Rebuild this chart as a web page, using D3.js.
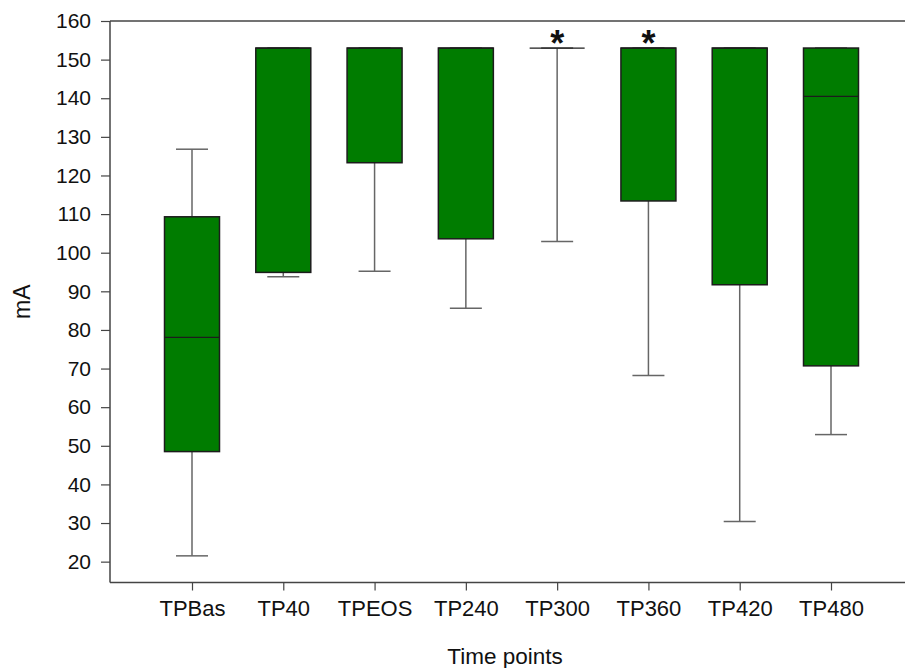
<!DOCTYPE html>
<html>
<head>
<meta charset="utf-8">
<script src="https://cdn.jsdelivr.net/npm/d3@7/dist/d3.min.js"></script>
<style>
  body { margin: 0; background: #fff; }
  svg { display: block; }
  text { font-family: "Liberation Sans", Arial, sans-serif; fill: #111; }
</style>
</head>
<body>
<svg id="chart" width="905" height="668"></svg>
<script>
// ---- data ----
const categories   = ["TPBas", "TP40", "TPEOS", "TP240", "TP300", "TP360", "TP420", "TP480"];
const whiskerLow   = [21.5, 93.8, 95.2, 85.6, 102.9, 68.2, 30.4, 52.9];
const q1Values     = [48.5, 94.9, 123.3, 103.6, 153, 113.4, 91.7, 70.7];
const medianValues = [78.1, 153, 153, 153, 153, 153, 153, 140.5];
const q3Values     = [109.3, 153, 153, 153, 153, 153, 153, 153];
const whiskerHigh  = [126.8, 153, 153, 153, 153, 153, 153, 153];
const significant  = ["TP300", "TP360"];
const yTicks       = [20, 30, 40, 50, 60, 70, 80, 90, 100, 110, 120, 130, 140, 150, 160];
const yLabel = "mA";
const xLabel = "Time points";

const boxes = categories.map((c, i) => ({
  cat: c, lo: whiskerLow[i], q1: q1Values[i], med: medianValues[i], q3: q3Values[i], hi: whiskerHigh[i]
}));

// ---- layout ----
const svg = d3.select("#chart");
const mLeft = 110, mTop = 21, mBottom = 582.5, mRight = 910;

const y = d3.scaleLinear().domain([14.6, 160]).range([mBottom, mTop]);
const x = d3.scalePoint().domain(categories).range([192, 831]);
const boxW = 55, capW = 32;

// frame
svg.append("line").attr("x1", mLeft).attr("x2", mRight).attr("y1", mTop).attr("y2", mTop)
  .attr("stroke", "#444").attr("stroke-width", 1.5);

// y axis
const yAxis = svg.append("g").attr("transform", `translate(${mLeft},0)`)
  .call(d3.axisLeft(y).tickValues(yTicks).tickSize(9).tickPadding(10).tickSizeOuter(0));
yAxis.select(".domain").attr("stroke", "#444").attr("stroke-width", 1.5)
  .attr("d", `M0,${mTop}V${mBottom}`);
yAxis.selectAll(".tick line").attr("stroke", "#444").attr("stroke-width", 1.2);
yAxis.selectAll(".tick text").attr("font-size", 21).attr("fill", "#111")
  .style("font-family", "'Liberation Sans', Arial, sans-serif");

// x axis
const xAxis = svg.append("g").attr("transform", `translate(0,${mBottom})`)
  .call(d3.axisBottom(x).tickSize(8).tickPadding(10).tickSizeOuter(0));
xAxis.select(".domain").attr("stroke", "#444").attr("stroke-width", 1.5)
  .attr("d", `M${mLeft},0H${mRight}`);
xAxis.selectAll(".tick line").attr("stroke", "#444").attr("stroke-width", 1.2);
xAxis.selectAll(".tick text").attr("font-size", 22).attr("fill", "#111")
  .style("font-family", "'Liberation Sans', Arial, sans-serif");

// boxes
const g = svg.append("g");
const bx = g.selectAll("g.box").data(boxes).join("g").attr("class", "box")
  .attr("transform", d => `translate(${x(d.cat)},0)`);

// whiskers
bx.append("line").attr("x1", 0).attr("x2", 0)
  .attr("y1", d => y(d.q1)).attr("y2", d => y(d.lo))
  .attr("stroke", "#666").attr("stroke-width", 1.5);
bx.append("line").attr("x1", 0).attr("x2", 0)
  .attr("y1", d => y(d.q3)).attr("y2", d => y(d.hi))
  .attr("stroke", "#666").attr("stroke-width", 1.5);
bx.append("line").attr("x1", -capW / 2).attr("x2", capW / 2)
  .attr("y1", d => y(d.lo)).attr("y2", d => y(d.lo))
  .attr("stroke", "#666").attr("stroke-width", 1.5);
bx.append("line").attr("x1", -capW / 2).attr("x2", capW / 2)
  .attr("y1", d => y(d.hi)).attr("y2", d => y(d.hi))
  .attr("stroke", "#666").attr("stroke-width", 1.5);

// box rect
bx.append("rect").attr("x", -boxW / 2).attr("width", boxW)
  .attr("y", d => y(d.q3)).attr("height", d => y(d.q1) - y(d.q3))
  .attr("fill", "#007c00").attr("stroke", d => (d.q1 === d.q3 ? "#888" : "#1c1c1c"))
  .attr("stroke-width", 1.5);

// median
bx.append("line").attr("x1", -boxW / 2).attr("x2", boxW / 2)
  .attr("y1", d => y(d.med)).attr("y2", d => y(d.med))
  .attr("stroke", "#1c1c1c").attr("stroke-width", 1.3);

// significance markers
g.selectAll("text.sig").data(boxes.filter(d => significant.includes(d.cat))).join("text")
  .attr("class", "sig")
  .attr("x", d => x(d.cat)).attr("y", d => y(d.hi))
  .attr("dy", "0.22em")
  .attr("text-anchor", "middle").attr("font-size", 36).attr("font-weight", "bold")
  .text("*");

// axis titles
svg.append("text").attr("transform", `translate(30,${(mTop + mBottom) / 2}) rotate(-90)`)
  .attr("text-anchor", "middle").attr("font-size", 23).text(yLabel);
svg.append("text").attr("x", 505).attr("y", 664)
  .attr("text-anchor", "middle").attr("font-size", 22.5).text(xLabel);
</script>
</body>
</html>
